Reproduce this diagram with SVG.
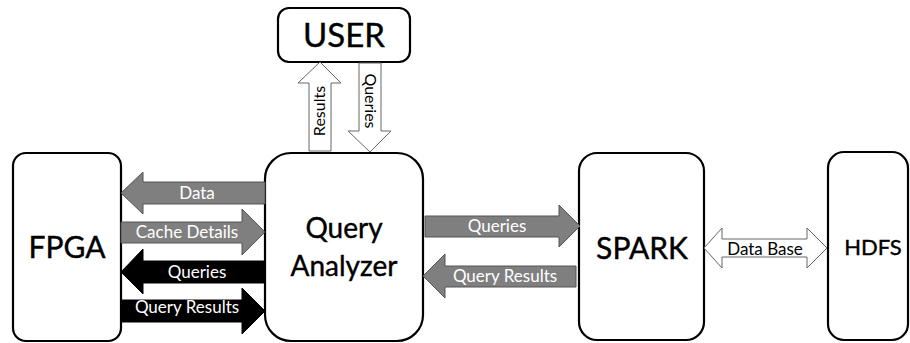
<svg xmlns="http://www.w3.org/2000/svg" width="910" height="343" viewBox="0 0 910 343">
<style>
.box{fill:#fff;stroke:#000;stroke-width:2.2}
.lbl{font-family:Lato,"Liberation Sans",sans-serif;fill:#000;stroke:#000;stroke-width:0.4;text-anchor:middle}
.gray{fill:#7f7f7f;stroke:#555;stroke-width:1}
.blk{fill:#000;stroke:#000;stroke-width:1}
.wht{fill:#fff;stroke:#666;stroke-width:1}
.al{font-family:Lato,"Liberation Sans",sans-serif;font-size:17px;fill:#fff;text-anchor:middle}
.ald{font-family:Lato,"Liberation Sans",sans-serif;font-size:17px;fill:#000;text-anchor:middle}
.alv{font-family:Lato,"Liberation Sans",sans-serif;font-size:16px;fill:#000;text-anchor:middle}
</style>
<rect width="910" height="343" fill="#fff"/>
<g id="fpga"><rect class="box" x="13" y="153" width="108" height="188" rx="13"/><text class="lbl" x="67" y="258" font-size="30">FPGA</text></g>
<g id="analyzer"><rect class="box" x="265" y="153" width="158" height="188" rx="26"/><text class="lbl" x="344" y="238" font-size="28">Query</text><text class="lbl" x="344" y="276" font-size="28">Analyzer</text></g>
<g id="user"><rect class="box" x="278" y="8" width="132" height="54" rx="11"/><text class="lbl" x="344" y="47" font-size="33">USER</text></g>
<g id="spark"><rect class="box" x="579" y="153" width="125" height="187" rx="18"/><text class="lbl" x="642" y="259" font-size="30">SPARK</text></g>
<g id="hdfs"><rect class="box" x="828" y="152" width="80" height="188" rx="16"/><text class="lbl" x="873" y="255" font-size="22">HDFS</text></g>
<g id="connectors">
<path class="gray" d="M265,182H143V172L121,193L143,214V204H265Z"/>
<text class="al" x="197" y="199">Data</text>
<path class="gray" d="M121,222H242V209L265,232L242,255V243H121Z"/>
<text class="al" x="187" y="238">Cache Details</text>
<path class="blk" d="M265,261H143V249L121,272L143,294V283H265Z"/>
<text class="al" x="197" y="278">Queries</text>
<path class="blk" d="M121,300H242V288L265,311L242,334V322H121Z"/>
<text class="al" x="187" y="313">Query Results</text>
<path class="gray" d="M425,216H559V205L580,226L559,247V237H425Z"/>
<text class="al" x="497" y="232">Queries</text>
<path class="gray" d="M576,266H445V254L423,276L445,298V287H576Z"/>
<text class="al" x="505" y="282">Query Results</text>
<path class="wht" d="M704,248L722,228V239H807V228L827,248L807,268V257H722V268Z"/>
<text class="ald" x="765" y="255">Data Base</text>
<path class="wht" d="M309,151V83H298L320,62L341,83H331V151Z"/>
<text class="alv" transform="translate(325,111) rotate(-90)">Results</text>
<path class="wht" d="M359,63H381V131H391L370,152L348,131H359Z"/>
<text class="alv" transform="translate(365,101) rotate(90)">Queries</text>
</g>
</svg>
